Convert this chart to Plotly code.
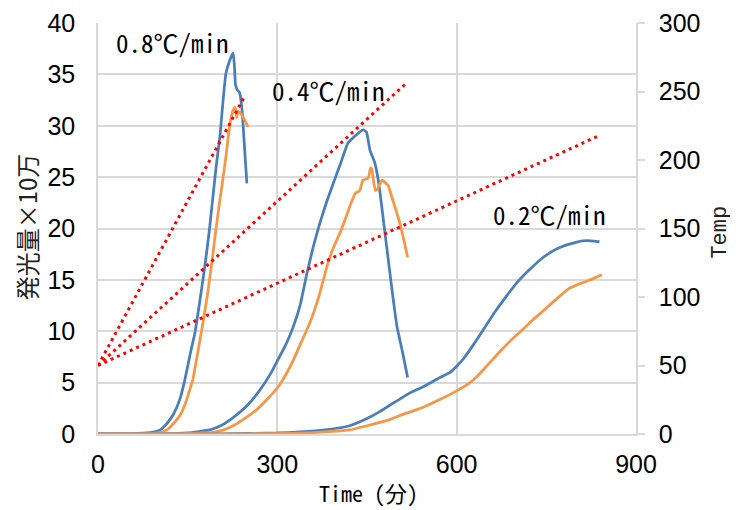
import plotly.graph_objects as go

# ---- data ----
# 0.8 ℃/min
t08_blue = [0, 50, 90, 104, 115, 126, 137, 145, 155, 162, 170, 176, 182, 187, 193, 198, 204, 209, 214, 220, 226, 228, 230, 233, 237, 241, 245, 249]
y08_blue = [0, 0.02, 0.15, 0.4, 1.0, 1.9, 3.4, 5.2, 8.0, 9.8, 12.8, 15.2, 17.8, 20.2, 23.5, 26.2, 29.0, 32.3, 35.1, 36.3, 37.1, 36.0, 34.0, 33.5, 33.2, 31.5, 28.0, 24.4]
t08_orange = [0, 70, 100, 115, 126, 137, 145, 154, 159, 165, 171, 176, 183, 190, 196, 202, 207, 214, 221, 226, 229, 231, 232, 234, 237, 241, 245, 251]
y08_orange = [0, 0.02, 0.1, 0.4, 1.0, 1.8, 2.8, 4.4, 5.4, 7.3, 9.3, 11.0, 13.5, 16.5, 19.3, 22.0, 24.0, 27.0, 30.3, 31.5, 31.8, 31.4, 30.8, 31.4, 31.3, 31.0, 30.6, 29.9]

# 0.4 ℃/min
t04_blue = [0, 100, 150, 187, 205, 226, 250, 271, 290, 299, 315, 327, 338, 349, 360, 371, 382, 393, 405, 418, 430, 443, 449, 455, 463, 468, 472, 480, 487, 493, 500, 510, 518]
y04_blue = [0, 0.02, 0.1, 0.4, 0.8, 1.6, 2.8, 4.3, 6.0, 7.0, 8.8, 10.5, 12.5, 15.5, 18.2, 20.5, 22.5, 24.3, 26.2, 28.3, 29.0, 29.6, 29.4, 27.6, 26.4, 25.0, 23.4, 19.6, 16.3, 13.5, 10.5, 7.8, 5.5]
t04_orange = [0, 120, 170, 192, 210, 226, 245, 266, 285, 304, 320, 330, 342, 355, 370, 385, 395, 405, 413, 421, 430, 438, 443, 452, 456, 458, 460, 464, 467, 475, 485, 493, 505, 512, 518]
y04_orange = [0, 0.02, 0.08, 0.15, 0.4, 0.8, 1.5, 2.4, 3.5, 4.8, 6.4, 7.6, 9.2, 10.9, 13.5, 16.7, 18.3, 19.6, 20.8, 22.1, 23.4, 23.7, 24.7, 24.9, 25.9, 25.8, 25.0, 23.7, 23.8, 24.7, 24.2, 22.8, 20.5, 18.8, 17.2]

# 0.2 ℃/min
t02_blue = [0, 200, 300, 338, 380, 421, 450, 472, 488, 505, 522, 544, 572, 589, 600, 611, 627, 644, 663, 683, 702, 722, 745, 767, 790, 811, 825, 839]
y02_blue = [0, 0.02, 0.1, 0.2, 0.4, 0.8, 1.5, 2.2, 2.8, 3.4, 4.0, 4.6, 5.5, 6.0, 6.6, 7.3, 8.6, 10.1, 11.8, 13.4, 14.8, 16.0, 17.2, 18.0, 18.5, 18.8, 18.8, 18.7]
t02_orange = [0, 250, 350, 421, 450, 488, 505, 525, 544, 570, 600, 620, 634, 650, 672, 692, 711, 731, 751, 770, 789, 805, 823, 835, 843]
y02_orange = [0, 0.02, 0.1, 0.4, 0.8, 1.4, 1.8, 2.2, 2.6, 3.3, 4.2, 4.9, 5.6, 6.6, 8.0, 9.2, 10.2, 11.3, 12.3, 13.3, 14.2, 14.6, 15.0, 15.3, 15.5]

# temperature programmes (right axis)
temp08_t = [0, 246]
temp08_v = [50, 247]
temp04_t = [0, 518]
temp04_v = [50, 257]
temp02_t = [0, 839]
temp02_v = [50, 218]

x_ticks = [0, 300, 600, 900]
y_ticks = [0, 5, 10, 15, 20, 25, 30, 35, 40]
y2_ticks = [0, 50, 100, 150, 200, 250, 300]

labels = ["0.8℃/min", "0.4℃/min", "0.2℃/min"]
x_title = "Time (分)"
y_title = "発光量×10万"
y2_title = "Temp"

BLUE = "#4a7ebb"
ORANGE = "#f79646"
RED = "#ff0000"
GRID = "#d9d9d9"
MONO = "Noto Sans Mono CJK JP, Liberation Mono, monospace"
SANS = "Liberation Sans, Arial, sans-serif"

fig = go.Figure()

for tx, vy in [(temp08_t, temp08_v), (temp04_t, temp04_v), (temp02_t, temp02_v)]:
    fig.add_trace(go.Scatter(x=tx, y=vy, yaxis="y2", mode="lines",
                             line=dict(color=RED, width=3, dash="3px,4px"),
                             showlegend=False, hoverinfo="skip"))

for tx, vy, c in [(t08_blue, y08_blue, BLUE), (t08_orange, y08_orange, ORANGE),
                  (t04_blue, y04_blue, BLUE), (t04_orange, y04_orange, ORANGE),
                  (t02_blue, y02_blue, BLUE), (t02_orange, y02_orange, ORANGE)]:
    fig.add_trace(go.Scatter(x=tx, y=vy, mode="lines",
                             line=dict(color=c, width=2.75, shape="spline", smoothing=0.4),
                             showlegend=False))

ann_pos = [(0.139, 0.954), (0.429, 0.837), (0.840, 0.535)]
for txt, (ax, ay) in zip(labels, ann_pos):
    fig.add_annotation(text=txt, x=ax, y=ay, xref="paper", yref="paper",
                       showarrow=False, xanchor="center", yanchor="middle",
                       font=dict(family=MONO, size=25, color="black"))

# axis titles
fig.add_annotation(text=x_title, x=0.502, y=-0.141, xref="paper", yref="paper",
                   showarrow=False, xanchor="center", yanchor="middle",
                   font=dict(family=MONO, size=22, color="black"))
fig.add_annotation(text=y_title, x=-0.133, y=0.504, xref="paper", yref="paper",
                   showarrow=False, xanchor="center", yanchor="middle", textangle=-90,
                   font=dict(family="Noto Sans CJK JP", size=24, color="#222"))
fig.add_annotation(text=y2_title, x=1.158, y=0.49, xref="paper", yref="paper",
                   showarrow=False, xanchor="center", yanchor="middle", textangle=-90,
                   font=dict(family="Liberation Mono, monospace", size=22, color="#222"))

# page body adds an 8px offset, so the figure is sized to fit the window after it
fig.update_layout(
    width=730, height=502,
    margin=dict(l=90, r=102, t=15, b=76),
    paper_bgcolor="white", plot_bgcolor="white",
    xaxis=dict(range=[0, 900], tickvals=x_ticks, showgrid=True, gridcolor=GRID, gridwidth=1.5,
               showline=True, linecolor=GRID, linewidth=1.5, zeroline=False, ticks="",
               tickfont=dict(family=SANS, size=25, color="black"), ticklabelstandoff=7,
               automargin=False),
    yaxis=dict(range=[0, 40], tickvals=y_ticks, showgrid=True, gridcolor=GRID, gridwidth=1.5,
               showline=True, linecolor=GRID, linewidth=1.5, zeroline=False, ticks="",
               tickfont=dict(family=SANS, size=25, color="black"), ticklabelstandoff=16,
               automargin=False),
    yaxis2=dict(range=[0, 300], tickvals=y2_ticks, overlaying="y", side="right", showgrid=False,
                showline=True, linecolor=GRID, linewidth=1.5, zeroline=False,
                ticks="outside", ticklen=7, tickcolor=GRID, tickwidth=1.5,
                tickfont=dict(family=SANS, size=25, color="black"), ticklabelstandoff=9,
                automargin=False),
)

fig.write_html("out.html")
